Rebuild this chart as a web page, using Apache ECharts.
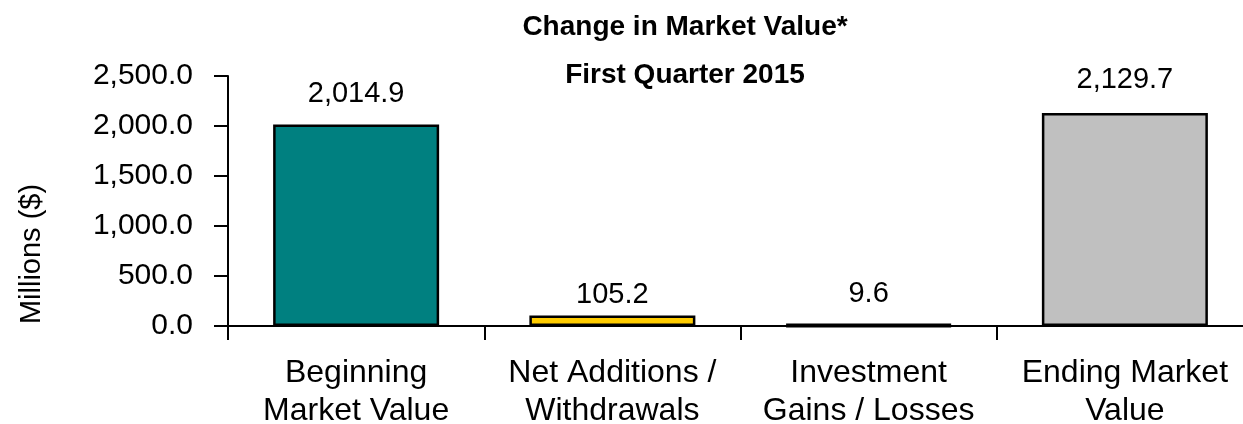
<!DOCTYPE html>
<html lang="en">
<head>
    <meta charset="UTF-8">
    <title>Change in Market Value</title>
    <script src="https://cdn.jsdelivr.net/npm/echarts@6/dist/echarts.min.js"></script>
    <style>
        html, body {
            margin: 0;
            height: 100%;
            background: #fff;
        }
    </style>
</head>
<body>
<div id="main" style="width: 1243px;height: 424px"></div>
</body>
</html>
<script>
    // chart data
    var categories = ['Beginning\nMarket Value', 'Net Additions /\nWithdrawals', 'Investment\nGains / Losses', 'Ending Market\nValue'];
    var values = [2014.9, 105.2, 9.6, 2129.7];
    var barColors = ['#008080', '#FFCC00', '#000000', '#C0C0C0'];
    var labelGap = [16, 6, 15, 19];
    var barBorder = [2.5, 2.5, 4, 2.5];

    var font = 'Liberation Sans, Arial, sans-serif';

    function fmt(v, d) {
        return v.toLocaleString('en-US', {minimumFractionDigits: d, maximumFractionDigits: d});
    }

    var myChart = echarts.init(document.getElementById('main'));

    var barData = [];
    for (var i = 0; i < values.length; i++) {
        barData.push({
            value: values[i],
            itemStyle: {color: barColors[i], borderWidth: barBorder[i]},
            label: {distance: labelGap[i]}
        });
    }

    var titleStyle = {
        fontFamily: font,
        fontWeight: 'bold',
        fontSize: 28,
        color: '#000'
    };

    var option = {
        backgroundColor: '#fff',
        animation: false,
        title: [{
            text: 'Change in Market Value*',
            left: 680,
            top: 8,
            textAlign: 'center',
            textStyle: titleStyle
        }, {
            text: 'First Quarter 2015',
            left: 680,
            top: 56,
            textAlign: 'center',
            textStyle: titleStyle
        }],
        grid: {
            left: 228,
            top: 76,
            width: 1025,
            height: 250,
            outerBoundsMode: 'none',
            containLabel: false
        },
        xAxis: {
            type: 'category',
            data: categories,
            axisLine: {lineStyle: {color: '#000', width: 2}},
            axisTick: {show: true, length: 14, lineStyle: {color: '#000', width: 2}},
            axisLabel: {
                interval: 0,
                margin: 28,
                fontFamily: font,
                fontSize: 32,
                lineHeight: 38,
                color: '#000'
            }
        },
        yAxis: {
            type: 'value',
            min: 0,
            max: 2500,
            interval: 500,
            name: 'Millions ($)',
            nameLocation: 'middle',
            nameRotate: 90,
            nameGap: 182,
            nameTextStyle: {
                fontFamily: font,
                fontSize: 29,
                color: '#000',
                padding: [0, 106, 0, 0]
            },
            splitLine: {show: false},
            axisLine: {show: true, lineStyle: {color: '#000', width: 2}},
            axisTick: {show: true, length: 14, lineStyle: {color: '#000', width: 2}},
            axisLabel: {
                margin: 35,
                fontFamily: font,
                fontSize: 30,
                color: '#000',
                padding: [6, 0, 0, 0],
                formatter: function (v) {
                    return fmt(v, 1);
                }
            }
        },
        series: [{
            type: 'bar',
            barWidth: 166,
            data: barData,
            itemStyle: {borderColor: '#000', borderWidth: 2.5},
            label: {
                show: true,
                position: 'top',
                fontFamily: font,
                fontSize: 29,
                color: '#000',
                formatter: function (p) {
                    return fmt(p.value, 1);
                }
            }
        }]
    };

    myChart.setOption(option);
</script>
